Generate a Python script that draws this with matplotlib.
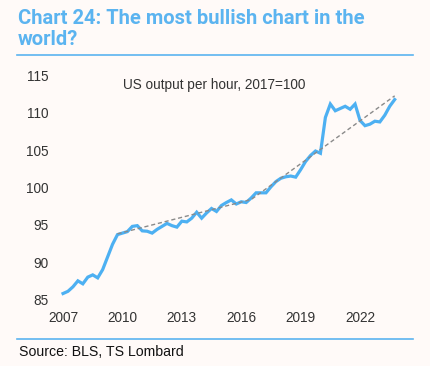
import numpy as np
from matplotlib import pyplot as plt

# quarterly US output per hour, 2007Q1 .. 2023Q4 (2017=100)
output = [85.8, 86.1, 86.7, 87.5, 87.1, 88.0, 88.3, 87.9,
          89.0, 90.7, 92.4, 93.7, 93.9, 94.1, 94.8, 94.9,
          94.2, 94.15, 93.9, 94.4, 94.8, 95.2, 94.9, 94.7,
          95.5, 95.4, 95.9, 96.7, 95.9, 96.6, 97.2, 96.8,
          97.6, 98.0, 98.35, 97.8, 98.1, 98.0, 98.6, 99.3,
          99.3, 99.3, 100.1, 100.8, 101.25, 101.45, 101.55, 101.4,
          102.4, 103.5, 104.3, 104.9, 104.6, 109.4, 111.2, 110.3,
          110.6, 110.9, 110.5, 111.2, 109.0, 108.3, 108.5, 108.9,
          108.8, 109.7, 110.9, 111.8]
start_year = 2007
trend_x = [2009.75, 2016.5, 2023.75]
trend_y = [93.8, 98.4, 112.3]
xticks = [2007, 2010, 2013, 2016, 2019, 2022]
yticks = [85, 90, 95, 100, 105, 110, 115]

title = 'Chart 24: The most bullish chart in the\nworld?'
label = 'US output per hour, 2017=100'
source = 'Source: BLS, TS Lombard'

bg = '#fffaf8'
blue = '#5bb4f0'
line_col = '#4db0f2'
txt = '#333333'

x = start_year + np.arange(len(output)) / 4.0

fig = plt.figure(figsize=(4.31, 3.66), dpi=100, facecolor=bg)
ax = fig.add_axes([0.1279, 0.1817, 0.7993, 0.6115])
ax.set_facecolor(bg)

ax.plot(trend_x, trend_y, color='#8a8a8a', lw=1.0, ls=(0, (3, 2)), zorder=3)
ax.plot(x, output, color=line_col, lw=2.3, zorder=2, solid_joinstyle='miter')

ax.set_xlim(2006.6, 2024.0)
ax.set_ylim(85, 115)
ax.set_xticks(xticks)
ax.set_yticks(yticks)
for s in ax.spines.values():
    s.set_visible(False)
ax.tick_params(length=0, labelsize=9.8, colors=txt)
ax.tick_params(axis='x', pad=8)
ax.tick_params(axis='y', pad=4.5)
for t in ax.get_xticklabels() + ax.get_yticklabels():
    t.set_family('Liberation Sans')

ax.text(0.462, 0.96, label, transform=ax.transAxes, ha='center', va='center',
        fontsize=9.8, color=txt, family='Liberation Sans')

fig.text(18/431, 1 - 29/366, title, ha='left', va='center', fontsize=14.5,
         fontweight='bold', color=blue, family='Roboto', linespacing=1.12)

fig.add_artist(plt.Line2D([17/431, 413/431], [1 - 55/366, 1 - 55/366],
                          color=blue, lw=1.2))
fig.add_artist(plt.Line2D([17/431, 413/431], [1 - 339/366, 1 - 339/366],
                          color=blue, lw=1.2))

fig.text(19/431, 1 - 352/366, source, ha='left', va='center', fontsize=10.2,
         color='#111111', family='Liberation Sans')

plt.savefig('out.png', dpi=100, facecolor=bg)
